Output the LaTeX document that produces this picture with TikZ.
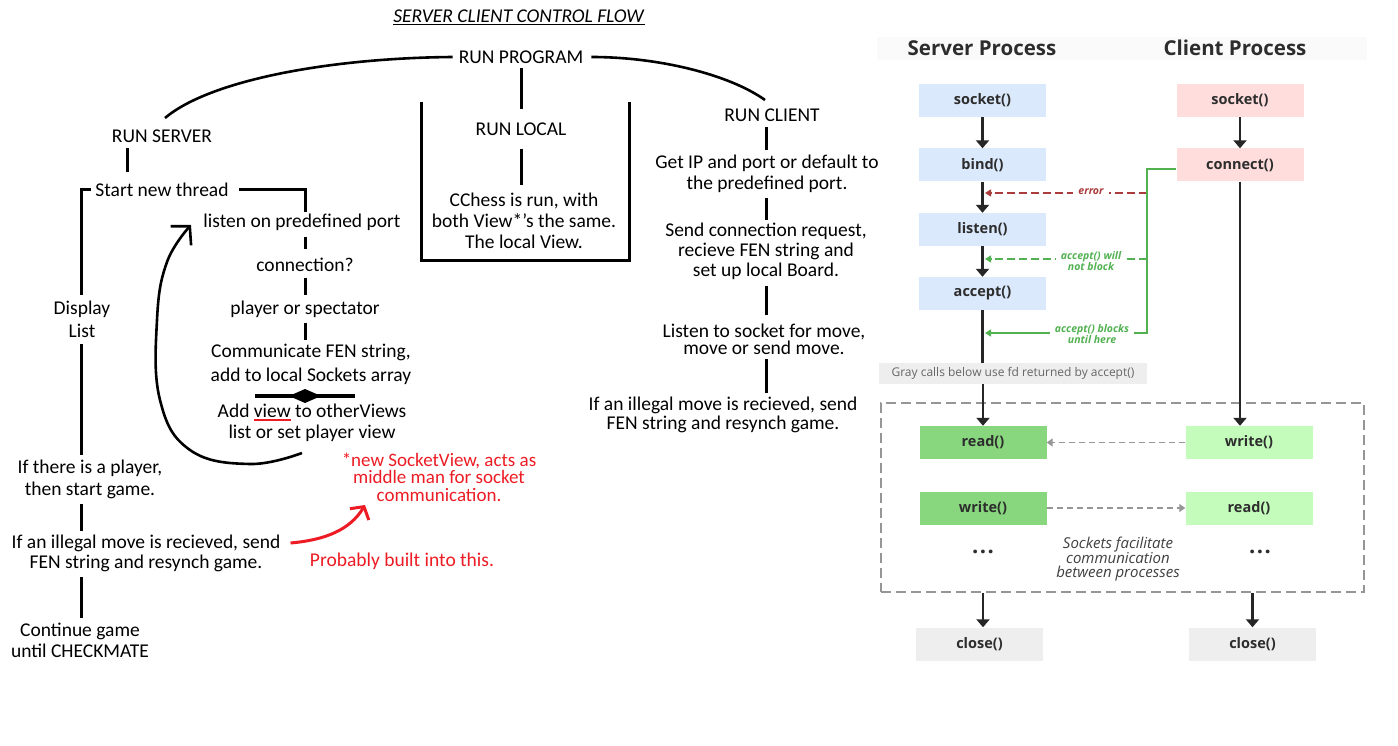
\documentclass[tikz,border=0pt]{standalone}
\usepackage{fontspec}
\setmainfont{Carlito}
\newfontfamily\os{Open Sans}
\usetikzlibrary{arrows.meta,calc}
\definecolor{srvblue}{RGB}{219,233,252}
\definecolor{clipink}{RGB}{255,221,221}
\definecolor{dgreen}{RGB}{136,214,126}
\definecolor{lgreen}{RGB}{196,252,188}
\definecolor{lgray}{RGB}{238,238,238}
\definecolor{txtdark}{RGB}{45,45,45}
\definecolor{errred}{RGB}{170,60,60}
\definecolor{okgreen}{RGB}{82,178,82}
\definecolor{annred}{RGB}{237,28,36}
\definecolor{boxgray}{RGB}{150,150,150}
\newcommand\redul[1]{\setbox0\hbox{#1}\rlap{\textcolor{annred}{\rule[-3.5pt]{\wd0}{1.8pt}}}\box0\relax}
\tikzset{
  txt/.style={inner sep=0pt, align=center, font=\fontsize{19.5}{#1}\selectfont},
  txt/.default=21,
  ln/.style={line width=3pt},
  lnc/.style={line width=2.6pt},
  callbox/.style={minimum width=127pt, minimum height=33pt, inner sep=0pt,
    font=\os\bfseries\fontsize{14.5}{16}\selectfont, text=txtdark},
  flow/.style={line width=2.8pt, draw=black!85, -{Triangle[length=8pt,width=13pt]}},
  sline/.style={line width=2.8pt, draw=black!85},
  gdash/.style={draw=boxgray, line width=1.8pt, dash pattern=on 6pt off 4pt, -{Triangle[length=6pt,width=8pt]}},
  gline/.style={draw=okgreen, line width=1.8pt, -{Triangle[length=6pt,width=7pt]}},
  gdline/.style={draw=okgreen, line width=1.8pt, dash pattern=on 8pt off 4pt, -{Triangle[length=6pt,width=7pt]}},
  eline/.style={draw=errred, line width=1.8pt, dash pattern=on 8pt off 4pt, -{Triangle[length=6pt,width=7pt]}},
  smlbl/.style={fill=white, inner xsep=5pt, inner ysep=1pt, align=center, font=\os\bfseries\itshape\fontsize{10.5}{11}\selectfont},
}
\begin{document}
\begin{tikzpicture}[x=1pt,y=-1pt]
\fill[white] (0,0) rectangle (1398,746);
\useasboundingbox (0,0) rectangle (1398,746);

% ---------------- left hand-drawn flow ----------------
\node[txt] (title) at (519,17) {\underline{\textit{SERVER CLIENT CONTROL FLOW}}};
\node[txt] (prog) at (521,57) {RUN PROGRAM};
\node[txt] (srv) at (162,136) {RUN SERVER};
\node[txt] (loc) at (521,129) {RUN LOCAL};
\node[txt] (cli) at (772,115) {RUN CLIENT};
\node[txt=21] (cchess) at (524,221) {CChess is run, with\\both View*\symbol{39}s the same.\\The local View.};
\node[txt=21] (getip) at (767,173.5) {Get IP and port or default to\\the predefined port.};
\node[txt=20] (sendc) at (766,251) {Send connection request,\\recieve FEN string and\\set up local Board.};
\node[txt=17] (listenc) at (764,339) {Listen to socket for move,\\move or send move.};
\node[txt=19] (illc) at (723,414.5) {If an illegal move is recieved, send\\FEN string and resynch game.};

\node[txt] (start) at (162,190) {Start new thread};
\node[txt] (listen) at (302,222) {listen on predefined port};
\node[txt] (conn) at (305,265) {connection?};
\node[txt] (player) at (305,309) {player or spectator};
\node[txt=24] (comm) at (311,364) {Communicate FEN string,\\add to local Sockets array};
\node[txt=21] (addview) at (312,422.5) {Add \redul{view} to otherViews\\list or set player view};
\node[txt=23] (disp) at (82,319.5) {Display\\List};
\node[txt=22] (player2) at (90,479) {If there is a player,\\then start game.};
\node[txt=20] (ill) at (146,553) {If an illegal move is recieved, send\\FEN string and resynch game.};
\node[txt=21] (cont) at (80,640.5) {Continue game\\until CHECKMATE};
\node[inner sep=0pt, align=center, font=\fontsize{19}{17.5}\selectfont, text=annred] (redn) at (439,477) {*new SocketView, acts as\\middle man for socket\\communication.};
\node[txt, text=annred] (prob) at (402,561) {Probably built into this.};

% curves from RUN PROGRAM
\draw[lnc] ([xshift=-6pt]prog.west) .. controls (330,58) and (210,80) .. ([xshift=3pt,yshift=18pt]srv.center);
\draw[lnc] ([xshift=8pt]prog.east) .. controls (660,57) and (730,75) .. ([xshift=-7pt,yshift=15pt]cli.center);

% local column
\draw[ln, shorten <=11pt, shorten >=20pt] (prog.center) -- (loc.center);
\draw[ln, shorten <=20pt, shorten >=36pt] (loc.center) -- (loc.center |- cchess.center);
\draw[ln] (421,102) -- (421,261) -- (629,261) -- (629,102);

% client column
\draw[ln, shorten <=12pt, shorten >=23.5pt] (sendc.center |- cli.center) -- (sendc.center |- getip.center);
\draw[ln, shorten <=24.5pt, shorten >=31pt] (sendc.center |- getip.center) -- (sendc.center);
\draw[ln, shorten <=35pt, shorten >=24pt] (sendc.center) -- (sendc.center |- listenc.center);
\draw[ln, shorten <=20pt, shorten >=21.5pt] (sendc.center |- listenc.center) -- (sendc.center |- illc.center);

% server column
\draw[ln, shorten <=12pt, shorten >=18pt] ([xshift=-35pt]srv.center) -- ([xshift=-35pt]srv.center |- start.center);
\draw[ln] ([xshift=10pt]start.east) -| ([yshift=10pt]conn.center |- listen.center);
\draw[ln] ([xshift=-4pt]start.west) -| ([xshift=-1pt,yshift=24.5pt]disp.center);
\draw[ln, shorten <=24.5pt, shorten >=24pt] ([xshift=-1pt]disp.center) -- ([xshift=-1pt]disp.center |- player2.center);
\draw[ln, shorten <=25pt, shorten >=22pt] ([xshift=-1pt]disp.center |- player2.center) -- ([xshift=-1pt]disp.center |- ill.center);
\draw[ln, shorten <=24pt, shorten >=22.5pt] ([xshift=-1pt]disp.center |- ill.center) -- ([xshift=-1pt]disp.center |- cont.center);

\draw[ln, shorten <=15pt, shorten >=16pt] (conn.center |- listen.center) -- (conn.center);
\draw[ln, shorten <=13pt, shorten >=14pt] (conn.center) -- (player.center);
\draw[ln, shorten <=14pt, shorten >=24pt] (player.center) -- (player.center |- comm.center);

% double-headed separator
\coordinate (dac) at (305,396);
\draw[line width=4pt] ([xshift=-50pt]dac) -- ([xshift=50pt]dac);
\fill ([xshift=-16pt]dac) -- ([yshift=7pt]dac) -- ([xshift=16pt]dac) -- ([yshift=-7pt]dac) -- cycle;

% loop back arrow
\coordinate (lpS) at (302,453);
\coordinate (lpE) at (191,225);
\draw[lnc, -{Straight Barb[length=13pt,width=28pt]}] plot[smooth, tension=0.7] coordinates {(lpS) (250,464) (190,450) (160,400) (157,320) (167,262) (lpE)};

% red annotation arrow
\coordinate (rtip) at (365,505);
\draw[annred, line width=3pt, -{Straight Barb[length=9pt,width=22pt]}] ([xshift=10pt,yshift=10pt]ill.east) .. controls (325,540) and (350,530) .. (rtip);

% ---------------- right: socket diagram ----------------
\fill[gray!4] (877,37) rectangle (1367,60);
\node[font=\os\bfseries\fontsize{20.5}{22}\selectfont, text=txtdark, inner sep=0pt] (stitle) at (982,48) {Server Process};
\node[font=\os\bfseries\fontsize{20.5}{22}\selectfont, text=txtdark, inner sep=0pt] (ctitle) at (1235,48) {Client Process};

\node[draw=boxgray, line width=2pt, dash pattern=on 10pt off 5pt, minimum width=483pt, minimum height=189pt, inner sep=0pt] (dbox) at (1122.5,497.5) {};

\node[callbox, fill=srvblue] (ssock) at (982.5,100.5) {socket()};
\node[callbox, fill=srvblue] (sbind) at (982.5,165) {bind()};
\node[callbox, fill=srvblue] (slist) at (982.5,229.5) {listen()};
\node[callbox, fill=srvblue] (sacc) at (982.5,293.5) {accept()};
\node[callbox, fill=clipink] (csock) at (1240,100.5) {socket()};
\node[callbox, fill=clipink] (cconn) at (1240,165) {connect()};
\node[fill=lgray, minimum width=268pt, minimum height=21pt, inner sep=0pt, font=\os\fontsize{12}{13}\selectfont, text=black!60] (gband) at (1013,373.5) {Gray calls below use fd returned by accept()};
\node[callbox, fill=dgreen] (sread) at (983,442.5) {read()};
\node[callbox, fill=dgreen] (swrite) at (983,508) {write()};
\node[callbox, fill=lgreen] (cwrite) at (1249,442.5) {write()};
\node[callbox, fill=lgreen] (cread) at (1249,508) {read()};
\node[callbox, fill=lgray] (sclose) at (979.5,644) {close()};
\node[callbox, fill=lgray] (cclose) at (1252.5,644) {close()};
\node[font=\os\bfseries\fontsize{22}{22}\selectfont, text=txtdark, inner sep=0pt] (sdots) at (983,552) {.\hspace{1.5pt}.\hspace{1.5pt}.};
\node[font=\os\bfseries\fontsize{22}{22}\selectfont, text=txtdark, inner sep=0pt] (cdots) at (1260,552) {.\hspace{1.5pt}.\hspace{1.5pt}.};
\node[align=center, inner sep=0pt, font=\os\itshape\fontsize{15}{14}\selectfont, text=black!75] (sockn) at (1118,559) {Sockets facilitate\\communication\\between processes};

\draw[flow] (ssock) -- (sbind);
\draw[flow] (sbind) -- (slist);
\draw[flow] (slist) -- (sacc);
\draw[sline] (sacc) -- (sacc |- gband.north);
\draw[flow] (sread |- gband.south) -- (sread);
\draw[flow] (csock) -- (cconn);
\draw[flow] (cconn) -- (cconn |- cwrite.north);
\draw[flow] (sread |- dbox.south) -- (sread |- sclose.north);
\draw[flow] (cclose |- dbox.south) -- (cclose);
\draw[gdash] (cwrite) -- (sread);
\draw[gdash] (swrite) -- (cread);

\coordinate (gc) at (1147,333);
\coordinate (blkT) at (985,333);
\coordinate (nbS) at (1147,259);
\coordinate (nbT) at (985,259);
\coordinate (errS) at (1147,193);
\coordinate (errT) at (985,193);
\draw[eline] (errS) -- (errT);
\draw[gdline] (nbS) -- (nbT);
\draw[gline] ([yshift=-4pt]cconn.west) -| (gc) -- (blkT);
\node[smlbl, text=errred] (errL) at (1091,192) {error};
\node[smlbl, text=okgreen] (nbL) at (1091,261) {accept() will\\not block};
\node[smlbl, text=okgreen] (blkL) at (1092,334.5) {accept() blocks\\until here};
\end{tikzpicture}
\end{document}
